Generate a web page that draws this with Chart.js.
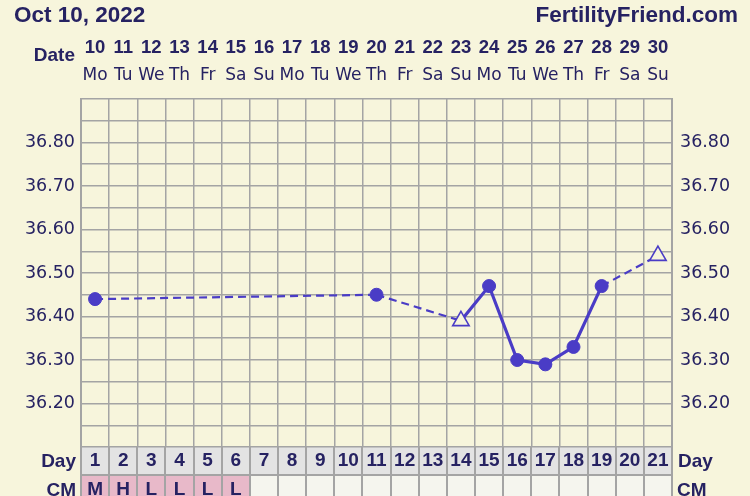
<!DOCTYPE html>
<html><head><meta charset="utf-8">
<script src="https://cdn.jsdelivr.net/npm/chart.js@4"></script>
<style>html,body{margin:0;padding:0;background:#f7f5dc;overflow:hidden}canvas{display:block}</style>
</head><body>
<canvas id="c" width="750" height="496"></canvas>
<script>
// ---- data ----
const titleText = 'Oct 10, 2022';
const siteText = 'FertilityFriend.com';
const dates = ['10','11','12','13','14','15','16','17','18','19','20','21','22','23','24','25','26','27','28','29','30'];
const weekdays = ['Mo','Tu','We','Th','Fr','Sa','Su','Mo','Tu','We','Th','Fr','Sa','Su','Mo','Tu','We','Th','Fr','Sa','Su'];
const cycleDays = ['1','2','3','4','5','6','7','8','9','10','11','12','13','14','15','16','17','18','19','20','21'];
const cmValues = ['M','H','L','L','L','L','','','','','','','','','','','','','','',''];
const temps = [36.44,null,null,null,null,null,null,null,null,null,36.45,null,null,36.39,36.47,36.30,36.29,36.33,36.47,null,36.54];
const openPoints = [13,20]; // indices of hollow triangle markers
const yMin = 36.10, yMax = 36.90, yStep = 0.05;

// ---- style ----
const NAVY='#262262', GRID='#a4a4a4', LINE='#4a3cc6', BG='#f7f5dc';
const DAYBG='#e3e3e3', PINK='#e8b9c9', EMPTY='#f5f5ee';
const BOLD = {family:'"Liberation Sans", Arial, sans-serif', weight:'bold'};
const REG = {family:'"DejaVu Sans", Verdana, sans-serif'};

const yLabel = v => { const c = Math.round(v*100); return (c%10===0 && c>=3620 && c<=3680) ? (c/100).toFixed(2) : ''; };
const isGap = c => temps[c.p0DataIndex] === null || temps[c.p0DataIndex] === undefined;

const cellsPlugin = {
  id:'cells',
  beforeDraw(chart){
    const {ctx} = chart; const xs = chart.scales.x, cm = chart.scales.xcm;
    ctx.save();
    ctx.fillStyle = BG; ctx.fillRect(0,0,chart.width,chart.height);
    const w = (xs.right - xs.left)/cycleDays.length;
    cycleDays.forEach((d,i)=>{
      const l = xs.getPixelForValue(i) - w/2;
      ctx.fillStyle = DAYBG; ctx.fillRect(l, xs.top, w, xs.bottom - xs.top);
      ctx.fillStyle = cmValues[i] ? PINK : EMPTY; ctx.fillRect(l, cm.top, w, chart.height - cm.top);
    });
    ctx.strokeStyle = GRID; ctx.lineWidth = 2;
    ctx.beginPath();
    for (let i=0;i<=cycleDays.length;i++){
      const x = Math.round(xs.left + i*w);
      ctx.moveTo(x, xs.top); ctx.lineTo(x, chart.height);
    }
    ctx.moveTo(xs.left, Math.round(xs.bottom)); ctx.lineTo(xs.right, Math.round(xs.bottom));
    ctx.stroke();
    ctx.restore();
  },
  afterDraw(chart){
    const {ctx} = chart; const xs = chart.scales.x, cm = chart.scales.xcm;
    ctx.save();
    ctx.fillStyle = NAVY;
    ctx.font = 'bold 22.5px "Liberation Sans", Arial, sans-serif';
    ctx.textBaseline = 'alphabetic';
    ctx.textAlign = 'left'; ctx.fillText(titleText, 14, 22);
    ctx.textAlign = 'right'; ctx.fillText(siteText, 738, 22);
    ctx.font = 'bold 19px "Liberation Sans", Arial, sans-serif';
    ctx.textBaseline = 'middle';
    ctx.textAlign = 'right';
    ctx.fillText('Date', 75, 56);
    const dy = (xs.top + xs.bottom)/2 + 1, cy = cm.top + 16;
    ctx.fillText('Day', 76, dy);
    ctx.fillText('CM', 76, cy);
    ctx.textAlign = 'left';
    ctx.fillText('Day', 678, dy);
    ctx.fillText('CM', 677, cy);
    ctx.restore();
  }
};

const hidden = {display:false};
new Chart(document.getElementById('c'), {
  type:'line',
  data:{
    labels: cycleDays,
    datasets:[{
      data: temps,
      spanGaps: true,
      borderColor: LINE,
      borderWidth: 3.2,
      pointStyle: temps.map((v,i)=> openPoints.includes(i) ? 'triangle' : 'circle'),
      pointRadius: temps.map((v,i)=> openPoints.includes(i) ? 9.5 : 6.5),
      pointBackgroundColor: temps.map((v,i)=> openPoints.includes(i) ? BG : LINE),
      pointBorderColor: LINE,
      pointBorderWidth: temps.map((v,i)=> openPoints.includes(i) ? 1.6 : 1),
      segment:{
        borderDash: c => isGap(c) ? [8,5] : undefined,
        borderWidth: c => isGap(c) ? 2.2 : 3.2
      }
    }]
  },
  options:{
    responsive:false, animation:false,
    layout:{padding:0},
    plugins:{legend:hidden, tooltip:{enabled:false}, title:hidden},
    scales:{
      x:{type:'category', position:'bottom', weight:1, offset:true,
         grid:{offset:true, color:GRID, lineWidth:1.5, drawTicks:false}, border:hidden,
         ticks:{color:NAVY, font:{...BOLD, size:19}, padding:2.5, autoSkip:false, maxRotation:0},
         afterFit:s=>{s.height=28;}},
      xcm:{type:'category', labels:cmValues, position:'bottom', weight:2, offset:true,
         grid:{display:false, drawTicks:false}, border:hidden,
         ticks:{color:NAVY, font:{...BOLD, size:19}, padding:3.5, autoSkip:false, maxRotation:0},
         afterFit:s=>{s.height=21;}},
      xwd:{type:'category', labels:weekdays, position:'top', weight:1, offset:true,
         grid:{display:false, drawTicks:false}, border:hidden,
         ticks:{color:NAVY, font:{...REG, size:17}, padding:13, autoSkip:false, maxRotation:0},
         afterFit:s=>{s.height=37;}},
      xdate:{type:'category', labels:dates, position:'top', weight:2, offset:true,
         grid:{display:false, drawTicks:false}, border:hidden,
         ticks:{color:NAVY, font:{...BOLD, size:18.5}, padding:3, autoSkip:false, maxRotation:0},
         afterFit:s=>{s.height=62;}},
      y:{position:'left', min:yMin, max:yMax,
         grid:{color:GRID, lineWidth:1.5, drawTicks:false}, border:{color:GRID, width:2},
         ticks:{stepSize:yStep, callback:yLabel, color:NAVY, font:{...REG, size:17.5}, padding:6, autoSkip:false},
         afterFit:s=>{s.width=81;}},
      y2:{position:'right', min:yMin, max:yMax,
         grid:{display:false, drawTicks:false}, border:{color:GRID, width:2},
         ticks:{stepSize:yStep, callback:yLabel, color:NAVY, font:{...REG, size:17.5}, padding:8, autoSkip:false},
         afterFit:s=>{s.width=78;}}
    }
  },
  plugins:[cellsPlugin]
});
</script>
</body></html>
